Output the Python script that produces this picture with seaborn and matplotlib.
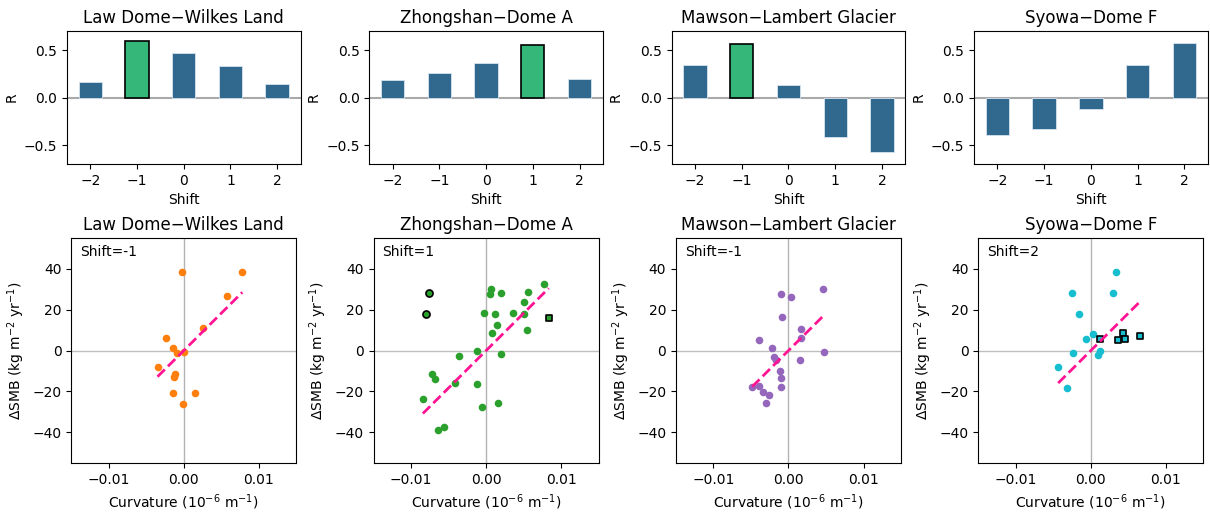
import numpy as np
import pandas as pd
import matplotlib
matplotlib.use("Agg")
import matplotlib.pyplot as plt
import seaborn as sns

# --- data ---
regions = ["Law Dome\u2212Wilkes Land", "Zhongshan\u2212Dome A",
           "Mawson\u2212Lambert Glacier", "Syowa\u2212Dome F"]
shifts = [-2, -1, 0, 1, 2]
r_law = [0.162, 0.599, 0.468, 0.331, 0.141]
r_zho = [0.187, 0.261, 0.363, 0.549, 0.197]
r_maw = [0.345, 0.567, 0.127, -0.412, -0.577]
r_syo = [-0.398, -0.335, -0.123, 0.345, 0.574]
best_shift = [-1, 1, -1, 2]
highlight = [True, True, True, False]

# curvature (1e-6 m^-1) vs dSMB (kg m^-2 yr^-1)
law_x = [-0.0002, 0.0078, 0.00578, 0.00262, -0.0024, -0.00147, -0.00089, 0.0,
         -0.0035, -0.00116, -0.00133, -0.00147, 0.00151, -0.00004]
law_y = [38.4, 38.4, 26.8, 11.0, 6.1, 1.1, -1.3, -0.8,
         -8.1, -11.3, -12.9, -20.6, -20.8, -26.3]

zho_x = [0.00768, 0.00071, 0.00053, 0.00203, 0.00561, 0.00499, -0.00035, 0.00115,
         0.00353, 0.00508, 0.00146, 0.00543, 0.00075, -0.00124, 0.00194, -0.00362,
         -0.0072, -0.00675, -0.00415, -0.00119, -0.00843, 0.00159, -0.00057,
         -0.00556, -0.00645]
zho_y = [32.5, 29.9, 27.7, 28.0, 28.5, 23.9, 18.4, 18.1,
         18.6, 17.8, 12.3, 10.2, 8.6, -0.2, -1.5, -2.8,
         -11.5, -13.9, -16.0, -16.2, -23.8, -25.7, -27.8,
         -37.5, -39.0]
zho_ring_x = [-0.00759, -0.00795]
zho_ring_y = [28.0, 18.0]
zho_sq_x = [0.00834]
zho_sq_y = [15.7]

maw_x = [-0.00102, 0.0004, 0.00457, -0.00089, 0.00173, 0.00164, -0.0039, -0.00222,
         -0.00191, -0.00173, 0.00479, 0.00151, -0.00111, -0.00102, -0.00102,
         -0.00483, -0.0039, -0.00346, -0.00262, -0.00297]
maw_y = [27.4, 26.1, 30.2, 16.5, 10.5, 6.1, 5.0, 1.3,
         -3.2, -4.8, -0.5, -4.5, -10.2, -13.4, -17.6,
         -17.7, -17.1, -20.2, -21.8, -25.8]

syo_x = [0.0033, -0.00255, 0.0029, -0.00158, 0.00035, -0.00062, 0.00123, 0.00101,
         -0.00233, -0.00435, -0.00312]
syo_y = [38.2, 28.1, 28.1, 18.1, 8.2, 5.8, -0.2, -2.4, -1.0, -8.1, -18.5]
syo_sq_x = [0.0036, 0.00426, 0.00457, 0.00659, 0.00123]
syo_sq_y = [5.0, 8.4, 5.5, 6.9, 5.6]

slope = 3650.0  # reference line through origin

colors = ["tab:orange", "tab:green", "tab:purple", "tab:cyan"]
bar_blue = "#31688e"
bar_green = "#35b779"

r_all = [r_law, r_zho, r_maw, r_syo]
pts = [
    (law_x, law_y, [], [], [], []),
    (zho_x, zho_y, zho_ring_x, zho_ring_y, zho_sq_x, zho_sq_y),
    (maw_x, maw_y, [], [], [], []),
    (syo_x, syo_y, [], [], syo_sq_x, syo_sq_y),
]

plt.rcParams["font.family"] = ["DejaVu Sans"]

fig = plt.figure(figsize=(12.1, 5.14), dpi=100)
gs = fig.add_gridspec(2, 4, height_ratios=[133, 225], left=0.0554, right=0.998,
                      top=0.9397, bottom=0.099, wspace=0.295, hspace=0.413)

for i in range(4):
    # --- correlation vs shift ---
    ax = fig.add_subplot(gs[0, i])
    df = pd.DataFrame({"Shift": shifts, "R": r_all[i]})
    pal = [bar_green if (highlight[i] and s == best_shift[i]) else bar_blue for s in shifts]
    sns.barplot(data=df, x="Shift", y="R", hue="Shift", palette=pal, legend=False,
                width=0.5, saturation=1, ax=ax, edgecolor="#d6e4ee", linewidth=0.6)
    ax.set_xticks(range(5))
    ax.set_xticklabels(["\u22122", "\u22121", "0", "1", "2"])
    for j, s in enumerate(shifts):
        if highlight[i] and s == best_shift[i]:
            ax.patches[j].set_edgecolor("black")
            ax.patches[j].set_linewidth(1.2)
    ax.axhline(0, color="darkgray", lw=1.5, zorder=0)
    ax.set_ylim(-0.7, 0.7)
    ax.set_xlim(-0.5, 4.5)
    ax.set_title(regions[i], fontsize=12)
    ax.set_xlabel("Shift")
    ax.set_ylabel("R")

    # --- scatter ---
    ax2 = fig.add_subplot(gs[1, i])
    x, y, rx, ry, qx, qy = pts[i]
    ax2.axhline(0, color="0.75", lw=1, zorder=0)
    ax2.axvline(0, color="0.7", lw=1, zorder=0)
    sns.scatterplot(x=x, y=y, color=colors[i], s=30, linewidth=0, ax=ax2, zorder=3)
    if rx:
        sns.scatterplot(x=rx, y=ry, color=colors[i], s=26, edgecolor="black",
                        linewidth=1.2, ax=ax2, zorder=3)
    if qx:
        sns.scatterplot(x=qx, y=qy, color=colors[i], s=24, marker="s", edgecolor="black",
                        linewidth=1.2, ax=ax2, zorder=3)
    allx = np.array(x + rx + qx)
    lx = np.array([allx.min(), allx.max()])
    ax2.plot(lx, slope * lx, color="deeppink", ls="--", lw=2, zorder=4)
    ax2.set_xlim(-0.015, 0.015)
    ax2.set_ylim(-55, 55)
    ax2.set_xticks([-0.01, 0.0, 0.01])
    ax2.set_yticks([-40, -20, 0, 20, 40])
    ax2.set_box_aspect(1)
    ax2.text(0.04, 0.97, f"Shift={best_shift[i]}", transform=ax2.transAxes,
             ha="left", va="top", fontsize=10)
    ax2.set_title(regions[i], fontsize=12)
    ax2.set_xlabel("Curvature (10$^{-6}$ m$^{-1}$)")
    ax2.set_ylabel("\u0394SMB (kg m$^{-2}$ yr$^{-1}$)")

fig.savefig("out.png", dpi=100)
